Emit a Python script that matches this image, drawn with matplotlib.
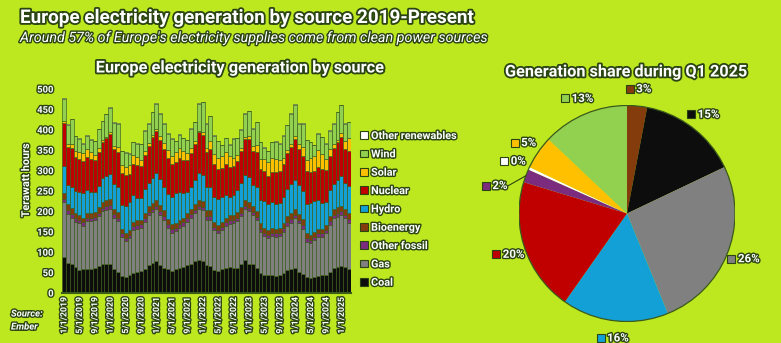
import matplotlib
matplotlib.use('Agg')
import matplotlib.pyplot as plt
import matplotlib.patheffects as pe
from matplotlib.patches import Circle, Patch
import numpy as np

# ---------------- data ----------------
months = [f"{m}/1/{y}" for y in range(2019, 2026) for m in range(1, 13)][:75]

coal = [88, 74, 70, 63, 57, 58, 60, 60, 62, 66, 72, 72,
        70, 58, 52, 42, 40, 44, 50, 52, 54, 58, 68, 74,
        78, 68, 62, 58, 55, 60, 62, 64, 68, 72, 78, 80,
        78, 68, 66, 56, 55, 58, 62, 64, 62, 62, 70, 80,
        72, 70, 62, 50, 45, 44, 44, 42, 44, 50, 56, 60,
        62, 52, 46, 40, 36, 38, 42, 44, 44, 52, 62, 64,
        66, 64, 58]
gas = [134, 120, 115, 112, 115, 107, 116, 116, 117, 122, 128, 132,
       137, 126, 124, 96, 88, 90, 105, 106, 106, 117, 122, 124,
       127, 124, 118, 102, 93, 92, 98, 101, 107, 113, 117, 125,
       125, 112, 114, 98, 91, 96, 103, 106, 110, 114, 118, 125,
       128, 120, 116, 100, 95, 91, 96, 96, 96, 100, 109, 112,
       121, 119, 112, 86, 86, 92, 96, 94, 102, 115, 121, 123,
       125, 119, 114]
other_fossil = [9, 9, 9, 9, 8, 8, 8, 8, 8, 9, 9, 9,
                9, 9, 9, 8, 8, 8, 8, 8, 8, 9, 9, 9,
                9, 9, 9, 8, 8, 8, 8, 8, 8, 9, 9, 9,
                9, 9, 9, 8, 8, 8, 8, 8, 8, 9, 9, 9,
                9, 9, 9, 8, 8, 8, 8, 8, 8, 9, 9, 9,
                9, 9, 9, 8, 8, 8, 8, 8, 8, 9, 9, 9,
                9, 9, 9]
bioenergy = [14, 14, 14, 13, 12, 12, 12, 12, 12, 13, 14, 14,
             14, 14, 14, 12, 12, 12, 12, 12, 12, 13, 14, 14,
             14, 14, 14, 13, 12, 12, 12, 12, 12, 13, 14, 14,
             14, 14, 14, 13, 12, 12, 12, 12, 12, 13, 14, 14,
             14, 14, 14, 13, 12, 12, 12, 12, 12, 13, 14, 14,
             14, 14, 14, 13, 12, 12, 12, 12, 12, 13, 14, 14,
             14, 14, 14]
hydro = [66, 48, 52, 52, 56, 60, 56, 52, 48, 52, 58, 60,
         62, 60, 60, 58, 66, 70, 64, 56, 52, 58, 56, 62,
         66, 64, 58, 62, 68, 72, 68, 60, 52, 54, 58, 66,
         62, 56, 58, 60, 64, 62, 54, 46, 48, 54, 58, 60,
         62, 52, 58, 56, 66, 62, 62, 60, 60, 64, 68, 72,
         72, 70, 70, 72, 78, 76, 70, 62, 58, 64, 62, 66,
         72, 64, 68]
nuclear = [106, 94, 95, 84, 80, 78, 82, 80, 78, 84, 90, 92,
           98, 86, 86, 78, 74, 68, 78, 80, 80, 84, 92, 100,
           104, 96, 92, 88, 80, 76, 82, 82, 78, 82, 90, 100,
           100, 86, 92, 82, 74, 70, 76, 72, 72, 72, 80, 90,
           92, 84, 86, 76, 72, 70, 74, 78, 80, 80, 86, 92,
           100, 88, 86, 80, 76, 72, 82, 84, 78, 82, 88, 94,
           96, 84, 84]
solar = [4, 7, 11, 15, 17, 19, 20, 17, 13, 9, 5, 3,
         5, 8, 13, 19, 21, 21, 22, 19, 15, 10, 6, 4,
         5, 9, 15, 19, 21, 25, 25, 22, 18, 12, 6, 4,
         6, 10, 19, 23, 28, 30, 31, 27, 20, 14, 7, 5,
         7, 12, 17, 26, 31, 35, 36, 32, 26, 15, 8, 5,
         7, 12, 20, 28, 34, 39, 41, 36, 27, 18, 9, 6,
         10, 19, 32]
wind = [55, 46, 60, 36, 33, 24, 32, 31, 34, 46, 45, 56,
        59, 56, 57, 34, 35, 28, 31, 33, 37, 49, 48, 56,
        61, 55, 47, 40, 41, 27, 33, 31, 31, 48, 47, 66,
        74, 60, 61, 46, 40, 26, 34, 28, 46, 42, 44, 56,
        62, 42, 57, 41, 27, 26, 38, 43, 40, 55, 61, 75,
        77, 51, 58, 47, 40, 25, 39, 42, 37, 45, 50, 67,
        68, 42, 40]
other_renewables = [1] * 75

series_names = ["Coal", "Gas", "Other fossil", "Bioenergy", "Hydro",
                "Nuclear", "Solar", "Wind", "Other renewables"]
series_values = [coal, gas, other_fossil, bioenergy, hydro,
                 nuclear, solar, wind, other_renewables]

pie_names = ["Bioenergy", "Coal", "Gas", "Hydro", "Nuclear",
             "Other fossil", "Other renewables", "Solar", "Wind"]
pie_shares = [3, 15, 26, 16, 20, 2, 0.4, 5, 13]
pie_labels = ["3%", "15%", "26%", "16%", "20%", "2%", "0%", "5%", "13%"]

# ---------------- style ----------------
BG = '#BDE71F'
EDGE = '#3A5A1C'
STROKE = '#2A4512'
colors = {
    "Coal": '#0D0D0D', "Gas": '#808080', "Other fossil": '#7B2C7F',
    "Bioenergy": '#843C0C', "Hydro": '#12A0D7', "Nuclear": '#C00000',
    "Solar": '#FFC000', "Wind": '#92D050', "Other renewables": '#FFFFFF',
}
FONT = ['Roboto', 'DejaVu Sans']
plt.rcParams['font.family'] = FONT
fx = [pe.withStroke(linewidth=2.6, foreground=STROKE)]
fx_small = [pe.withStroke(linewidth=2.0, foreground=STROKE)]

W, H = 781, 343
fig = plt.figure(figsize=(W / 100, H / 100), dpi=100, facecolor=BG)

def fxy(px, py):
    return px / W, 1 - py / H

# titles
fig.text(*fxy(20, 18), "Europe electricity generation by source 2019-Present",
         fontsize=13.6, fontweight='bold', color='white', va='center', ha='left',
         path_effects=fx)
fig.text(*fxy(20, 38), "Around 57% of Europe's electricity supplies come from clean power sources",
         fontsize=10.3, fontstyle='italic', color='white', va='center', ha='left',
         path_effects=fx_small)
fig.text(*fxy(240, 68), "Europe electricity generation by source",
         fontsize=11.8, fontweight='bold', color='white', va='center', ha='center',
         path_effects=fx)
fig.text(*fxy(626, 72), "Generation share during Q1 2025",
         fontsize=11.7, fontweight='bold', color='white', va='center', ha='center',
         path_effects=fx)
fig.text(*fxy(11, 314), "Source:", fontsize=6.8, fontweight='bold', fontstyle='italic',
         color='white', va='center', ha='left', path_effects=fx_small)
fig.text(*fxy(11, 327), "Ember", fontsize=6.8, fontweight='bold', fontstyle='italic',
         color='white', va='center', ha='left', path_effects=fx_small)

# ---------------- stacked bars ----------------
left_px, right_px, top_px, bot_px = 62, 351, 89, 293
ax = fig.add_axes([left_px / W, 1 - bot_px / H, (right_px - left_px) / W, (bot_px - top_px) / H])
ax.set_facecolor('none')
x = np.arange(len(months))
bottom = np.zeros(len(x))
handles = []
for name, vals in zip(series_names, series_values):
    v = np.array(vals, dtype=float)
    ax.bar(x, v, width=1.0, bottom=bottom, color=colors[name], edgecolor=EDGE,
           linewidth=0.45)
    bottom += v
    handles.append(Patch(facecolor=colors[name], edgecolor=STROKE, linewidth=0.8, label=name))

ax.set_xlim(-0.5, len(x) - 0.5)
ax.set_ylim(0, 500)
ax.set_yticks(np.arange(0, 501, 50))
ax.set_xticks(x[::4])
ax.set_xticklabels(months[::4], rotation=90)
for sp in ['top', 'right', 'left']:
    ax.spines[sp].set_visible(False)
ax.spines['bottom'].set_color(EDGE)
ax.spines['bottom'].set_linewidth(1.5)
ax.tick_params(axis='both', length=0)
ax.tick_params(axis='y', pad=6)
ax.tick_params(axis='x', pad=3)
for t in ax.get_yticklabels():
    t.set_fontsize(6.8); t.set_fontweight('bold'); t.set_color('white'); t.set_path_effects(fx_small)
for t in ax.get_xticklabels():
    t.set_fontsize(6.3); t.set_fontweight('bold'); t.set_color('white'); t.set_path_effects(fx_small)
ax.set_ylabel("Terawatt hours", fontsize=7.8, fontweight='bold', color='white',
              path_effects=fx_small)
ax.yaxis.set_label_coords((31 - left_px) / (right_px - left_px),
                          (bot_px - 180) / (bot_px - top_px))

leg = fig.legend(handles=handles[::-1], loc='upper left',
                 bbox_to_anchor=fxy(360, 131), frameon=False,
                 fontsize=7.8, handlelength=0.72, handleheight=0.72,
                 handletextpad=0.3, labelspacing=0.77, borderaxespad=0, borderpad=0)
for t in leg.get_texts():
    t.set_fontweight('bold'); t.set_color('white'); t.set_path_effects(fx_small)

# ---------------- pie ----------------
cx, cy, R = 627, 213.5, 108
ax2 = fig.add_axes([(cx - R) / W, 1 - (cy + R) / H, 2 * R / W, 2 * R / H])
wedges, _ = ax2.pie(pie_shares, colors=[colors[n] for n in pie_names],
                    startangle=90, counterclock=False, radius=1,
                    wedgeprops=dict(linewidth=0))
ax2.add_patch(Circle((0, 0), 1, fill=False, edgecolor=EDGE, linewidth=0.9))
ax2.set_xlim(-1, 1); ax2.set_ylim(-1, 1)
ax2.set_aspect('equal')
ax2.axis('off')

fig.canvas.draw()
renderer = fig.canvas.get_renderer()
ppu = ax2.transData.transform((1, 0))[0] - ax2.transData.transform((0, 0))[0]
for w, lab, name in zip(wedges, pie_labels, pie_names):
    mid = np.deg2rad((w.theta1 + w.theta2) / 2)
    ang, r = mid, 1.16
    if name == "Other fossil":
        ang, r = mid + np.deg2rad(8.5), 1.25
    lx, ly = r * np.cos(ang), r * np.sin(ang)
    t = ax2.text(0, 0, lab, fontsize=8.3, fontweight='bold', color='white',
                 ha='left', va='center', path_effects=fx_small, clip_on=False)
    bb = t.get_window_extent(renderer)
    tw = bb.width / ppu
    mw, gap = 7 / ppu, 3 / ppu
    total = mw + gap + tw
    x0 = lx - total / 2
    t.set_position((x0 + mw + gap, ly))
    ax2.plot([x0 + mw / 2], [ly], marker='s', markersize=5.8, markerfacecolor=colors[name],
             markeredgecolor=STROKE, markeredgewidth=0.8, clip_on=False)
    if name == "Other fossil":
        ax2.plot([np.cos(mid), x0 + total + 1 / ppu], [np.sin(mid), ly], color=STROKE,
                 linewidth=0.8, clip_on=False)

fig.savefig('out.png', dpi=100, facecolor=BG)
